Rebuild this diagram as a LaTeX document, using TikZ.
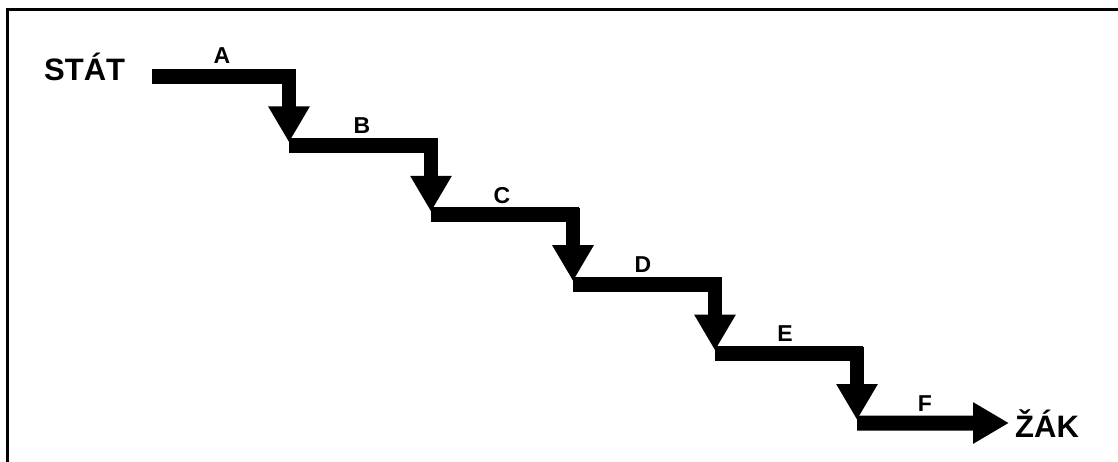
\documentclass[tikz,border=0pt]{standalone}
\usepackage{fontspec}
\setmainfont{Liberation Sans}
\usetikzlibrary{arrows.meta}
\begin{document}
\begin{tikzpicture}[x=1pt,y=-1pt,
  bar/.style={line width=15pt,line cap=butt},
  stem/.style={line width=13.5pt,line cap=butt,-{Triangle[length=36pt,width=39pt]}},
  endarrow/.style={line width=15pt,line cap=butt,-{Triangle[length=36pt,width=39pt]}},
  lbl/.style={font=\fontsize{23}{27}\selectfont\bfseries,anchor=base,inner sep=0pt},
  big/.style={font=\fontsize{31}{36}\selectfont\bfseries,inner sep=0pt,anchor=base west}]
\useasboundingbox (0,0) rectangle (1118,461);
\draw[line width=2.8pt] (7.5,475) -- (7.5,9.5) -- (1135,9.5);
% text
\node[big] (stat) at (44,80) {STÁT};
% coordinates
\coordinate (s0) at (152,76);
\foreach \i in {0,...,4}{
  \pgfmathsetmacro{\xc}{289+142*\i}
  \pgfmathsetmacro{\yb}{76+69.4*\i}
  \pgfmathsetmacro{\yn}{76+69.4*(\i+1)}
  \coordinate (e\i) at (\xc+6,\yb);
  \coordinate (t\i) at (\xc,\yb-7);
  \coordinate (h\i) at (\xc,\yn-3);
  \coordinate (b\i) at (\xc,\yn);
}
\draw[bar] (s0) -- (e0);
\draw[bar] (b0) -- (e1);
\draw[bar] (b1) -- (e2);
\draw[bar] (b2) -- (e3);
\draw[bar] (b3) -- (e4);
\foreach \i in {0,...,4}{\draw[stem] (t\i) -- (h\i);}
\node[big] (zak) at (1015,437) {ŽÁK};
\coordinate (f1) at (1009,423);
\draw[endarrow] (b4) -- (f1);
% labels
\node[lbl] (A) at (222,63) {A};
\node[lbl] (B) at (362,133) {B};
\node[lbl] (C) at (502,203) {C};
\node[lbl] (D) at (643,272) {D};
\node[lbl] (E) at (785,341) {E};
\node[lbl] (F) at (925,411) {F};
\end{tikzpicture}
\end{document}
